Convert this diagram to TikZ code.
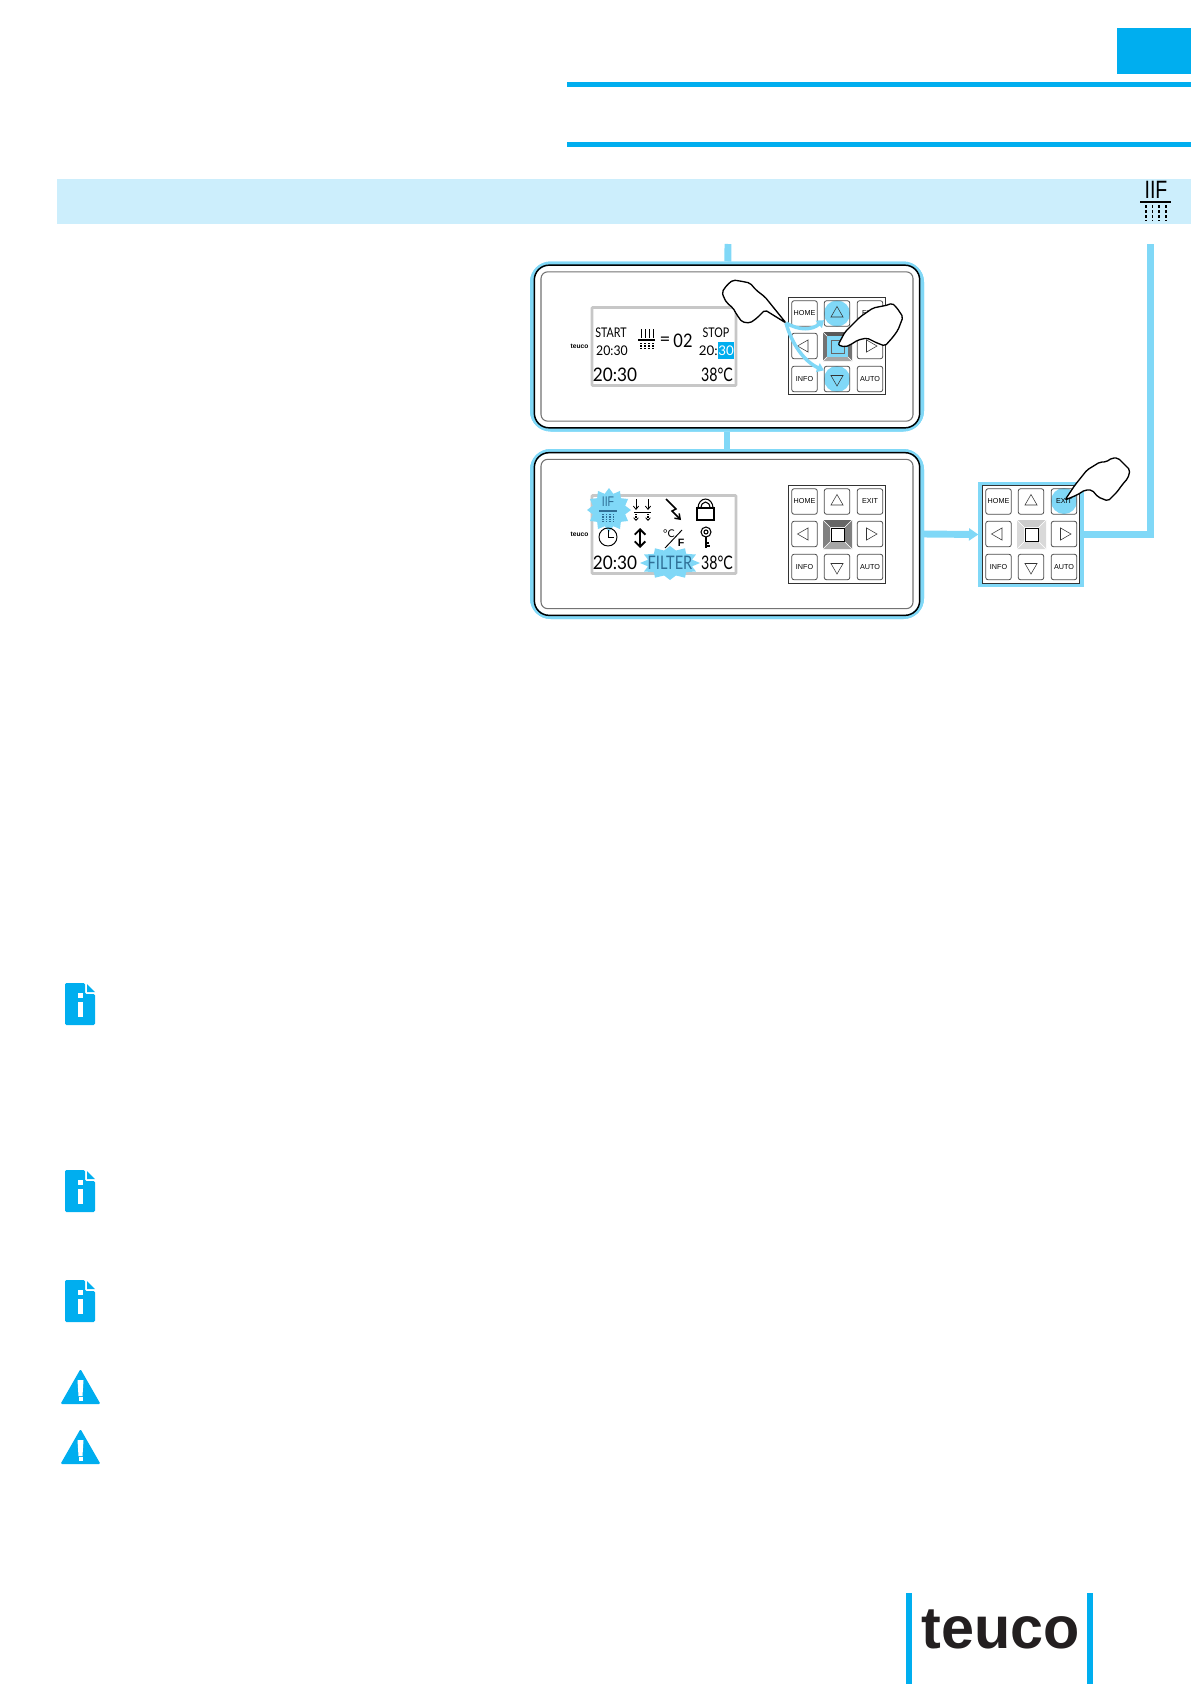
\documentclass[tikz,border=0pt]{standalone}
\usepackage{fontspec}
\setmainfont{Liberation Sans}
\newfontfamily\lcdfont{Lato}
\usetikzlibrary{shapes.geometric,arrows.meta,positioning,calc}
\definecolor{teucoblue}{HTML}{00AEEF}
\definecolor{linkblue}{HTML}{80D8F7}
\definecolor{bandblue}{HTML}{CCEEFC}
\definecolor{logoblack}{HTML}{231F20}
\definecolor{starblue}{HTML}{2F6F96}
\tikzset{
    panelglow/.style={draw=linkblue, line width=3pt, fill=white, rounded corners=14pt, minimum width=292.5pt, minimum height=124.5pt},
    panelframe/.style={draw=black, line width=1.1pt, rounded corners=11pt, minimum width=289pt, minimum height=122pt},
    panelinner/.style={draw=black!55, line width=.8pt, rounded corners=5pt, minimum width=279pt, minimum height=112pt},
    lcdbox/.style={draw=black!22, line width=2pt, rounded corners=.5pt, minimum width=108pt, minimum height=58.5pt},
    padframe/.style={draw=black!80, line width=.7pt, fill=white, minimum width=73pt, minimum height=73pt},
    keybox/.style={draw=black!70, line width=.6pt, rounded corners=1.5pt, minimum width=19pt, minimum height=19pt, inner sep=0pt, font=\fontsize{5.4pt}{6pt}\selectfont},
    keytri/.style={regular polygon, regular polygon sides=3, draw=black!80, line width=.4pt, minimum size=10.5pt, inner sep=0pt},
    link/.style={draw=linkblue, line width=5.2pt},
    sweep/.style={draw=linkblue, line width=2.6pt, -{Triangle[length=5pt,width=7pt]}},
    hand/.style={draw=black, line width=1pt, fill=white, rounded corners=1.5pt, line join=round},
    lcdsmall/.style={inner sep=0pt, font=\lcdfont\fontsize{10pt}{10pt}\selectfont},
    lcdbig/.style={inner sep=0pt, font=\lcdfont\fontsize{14pt}{14pt}\selectfont},
    tinylogo/.style={inner sep=0pt, font=\bfseries\fontsize{5pt}{5pt}\selectfont},
    dotted rain/.style={line width=.8pt, dash pattern=on 1pt off .8pt},
}
% keypad, drawn at the place of the first one
\newcommand{\keypad}[1]{
    \foreach \keyname/\keytext/\keyx/\keyy in {home/HOME/804.5/313.5, exit/EXIT/870/313.5, info/INFO/804.5/379, auto/AUTO/870/379}
        \node[keybox] (#1\keyname) at (\keyx,\keyy) {\keytext};
    \foreach \keyname/\keyrot/\keyx/\keyy in {up/0/837/313.5, down/180/837/379, left/90/804.5/346, right/270/870/346} {
        \node[keybox] (#1\keyname) at (\keyx,\keyy) {};
        \node[keytri, shape border rotate=\keyrot] (#1\keyname tri) at (#1\keyname) {};
    }
}
% middle key: top, sides, bottom
\newcommand{\padcore}[3]{
    \fill[#1] (823,332) -- (852,332) -- (845,339) -- (830,339) -- cycle;
    \fill[#2] (823,332) -- (830,339) -- (830,354) -- (823,361) -- cycle;
    \fill[#2] (852,332) -- (845,339) -- (845,354) -- (852,361) -- cycle;
    \fill[#3] (823,361) -- (852,361) -- (845,354) -- (830,354) -- cycle;
    \draw[white, line width=.4pt] (823,332) -- (830,339) (852,332) -- (845,339) (823,361) -- (830,354) (852,361) -- (845,354);
}
% spiky patch behind a lit symbol
\newcommand{\burst}[4]{
    \fill[linkblue] plot[domain=0:24, samples=25] ({#1+(#3)*(1-.24*mod(\x,2))*cos(\x*15)}, {#2+(#4)*(1-.24*mod(\x,2))*sin(\x*15)}) -- cycle;
}
\begin{document}
\begin{tikzpicture}[x=.75pt, y=-.75pt]
    \useasboundingbox (0,0) rectangle (1191,1684);
    % page head
    \fill[teucoblue] (1117,28) rectangle (1191,74);
    \fill[teucoblue] (567,82) rectangle (1191,87);
    \fill[teucoblue] (567,142) rectangle (1191,147);
    \fill[bandblue] (57,179) rectangle (1191,224);
    \node[inner sep=0pt, font=\fontsize{18.8pt}{18.8pt}\selectfont] (headmark) at (1156,190) {\scalebox{.78}[1]{IIF}};
    \draw[line width=1pt] (1140,202) -- (1171,202);
    \foreach \x in {1146,1152.5,1159,1166}
        \draw[line width=1pt, dash pattern=on 2.2pt off 1.6pt] (\x,205) -- (\x,221);

    % panels
    \coordinate (linkstart) at (728,244);
    \coordinate (linkend) at (1150.5,244);
    \node[panelglow] (panelA) at (727,346.5) {};
    \node[panelglow] (panelB) at (727,534) {};
    \node[padframe, draw=linkblue, line width=3pt, minimum width=76pt, minimum height=76pt] (padCglow) at (1031,534.5) {};
    \draw[link] (linkstart) -- (panelA);
    \draw[link] (panelA) -- (panelB);
    \draw[link, -{Triangle[length=7pt,width=9pt]}] (panelB.east) -- (padCglow.west);
    \draw[link] (padCglow.east) -| (linkend);
    \node[panelglow] (panelAtop) at (727,346.5) {};
    \node[panelglow] (panelBtop) at (727,534) {};
    \foreach \panel/\panely in {A/346.5, B/534} {
        \node[panelframe] (frame\panel) at (727,\panely) {};
        \node[panelinner] (inner\panel) at (727,\panely) {};
    }

    % first display
    \node[lcdbox] (lcdA) at (664,346.5) {};
    \node[tinylogo, left=1.5pt of lcdA] (logoA) {teuco};
    \node[lcdsmall] (startA) at (611,333) {\scalebox{.8}[1]{START}};
    \node[lcdsmall] (timeA) at (612,351) {\scalebox{.92}[1]{20:30}};
    \node[lcdbig] (clockA) at (615,375) {\scalebox{.92}[1]{20:30}};
    \node[lcdsmall] (stopA) at (716,333) {\scalebox{.8}[1]{STOP}};
    \fill[teucoblue] (718,342) rectangle (734,359);
    \node[lcdsmall, anchor=east] (stopminA) at (718,351) {20:};
    \node[lcdsmall, text=white] (stopsecA) at (726,351) {30};
    \node[lcdbig] (tempA) at (717,375) {\scalebox{.76}[1]{38°C}};
    \foreach \x in {641,645,649,653} {
        \draw[line width=.7pt] (\x,329) -- (\x,338);
        \draw[dotted rain] (\x,343) -- (\x,349);
    }
    \draw[line width=.8pt] (638,340) -- (655,340);
    \node[lcdbig] (eqA) at (665,341) {=};
    \node[lcdbig] (countA) at (683,341) {\scalebox{.88}[1]{02}};

    % first keypad
    \node[padframe] (padA) at (837,346) {};
    \fill[linkblue] (837,313.5) circle (13);
    \fill[linkblue] (837,379) circle (13);
    \padcore{black!65}{black!55}{black!35}
    \fill[linkblue] (827,336) rectangle (848,357);
    \draw[black!60, line width=.5pt] (831,340) rectangle (844,353);
    \keypad{padA}

    % second display
    \node[lcdbox] (lcdB) at (664,534.5) {};
    \node[tinylogo, left=1.5pt of lcdB] (logoB) {teuco};
    \burst{609}{510}{22}{22}
    \burst{670}{563}{30}{17}
    \node[inner sep=0pt, text=starblue, font=\fontsize{10.5pt}{10.5pt}\selectfont] (markB) at (608,502) {\scalebox{.75}[1]{IIF}};
    \draw[starblue, line width=.8pt] (599,511) -- (617,511);
    \foreach \x in {603,606.5,610,613.5}
        \draw[starblue, dotted rain] (\x,514) -- (\x,522);
    % down jets
    \foreach \x in {636,648} {
        \draw[line width=.6pt, -{Straight Barb[length=2.5pt,width=4pt]}] (\x,499) -- (\x,510);
        \draw[dotted rain, -{Straight Barb[length=2pt,width=3.5pt,line width=.6pt]}] (\x,514) -- (\x,521);
    }
    \draw[line width=.7pt] (634,512) -- (651,512);
    % bolt
    \draw[line width=1.1pt, -{Straight Barb[length=3.5pt,width=5pt]}] (666,499) -- (676,509) -- (672,511) -- (681,520);
    % padlock
    \draw[line width=.8pt] (697,508) rectangle (714,520);
    \draw[line width=.8pt] (698,508) arc (180:360:7.5 and 9);
    \draw[line width=.8pt] (701,508) arc (180:360:4.5 and 6);
    % clock
    \draw[line width=.7pt] (608,537) circle (9);
    \draw[line width=.6pt] (608,530) -- (608,537) -- (614,537);
    % up and down
    \draw[line width=1.4pt, {Straight Barb[length=4pt,width=8pt]}-{Straight Barb[length=4pt,width=8pt]}] (640,528) -- (640,548);
    % unit swap
    \node[inner sep=0pt, font=\lcdfont\fontsize{8pt}{8pt}\selectfont] (celsius) at (669,534) {°C};
    \draw[line width=.7pt] (665,548) -- (682,530);
    \node[inner sep=0pt, font=\bfseries\fontsize{8pt}{8pt}\selectfont] (fahren) at (681,543) {F};
    % key
    \draw[line width=.8pt] (706,532) circle (5);
    \draw[line width=.8pt] (706,532) circle (2);
    \draw[line width=2pt] (706,537) -- (706,548);
    \draw[line width=1.2pt] (706,546) -- (710,546) (706,543) -- (709,543);
    \node[lcdbig] (clockB) at (615,563) {\scalebox{.92}[1]{20:30}};
    \node[lcdbig, text=starblue] (filterB) at (670,563) {\scalebox{.78}[1]{FILTER}};
    \node[lcdbig] (tempB) at (717,563) {\scalebox{.76}[1]{38°C}};

    % second keypad
    \begin{scope}[shift={(0,188)}]
        \node[padframe] (padB) at (837,346.5) {};
        \padcore{black!60}{black!50}{black!35}
        \draw[black, line width=.5pt] (831,340) rectangle (844,353);
        \keypad{padB}
    \end{scope}

    % third keypad
    \begin{scope}[shift={(194,188)}]
        \node[padframe] (padC) at (837,346.5) {};
        \fill[linkblue] (870,313) circle (13);
        \padcore{black!20}{black!15}{black!15}
        \draw[black, line width=.5pt] (831,340) rectangle (844,353);
        \keypad{padC}
    \end{scope}

    % hands
    \coordinate (tipA) at (786,323);
    \draw[sweep] (tipA) .. controls (800,331) and (812,330) .. ([yshift=-5pt]padAup.west);
    \draw[sweep] (tipA) .. controls (792,345) and (805,362) .. ([yshift=6.5pt]padAdown.west);
    \draw[hand] (tipA) -- (765,297) -- (756,290) -- (750,283) -- (740,281) -- (733,280) -- (727,285) -- (722,292) -- (724,298) -- (727,303) -- (733,308) -- (737,315) -- (742,322) -- (750,323) -- (757,318) -- (765,310) -- cycle;
    \draw[hand] (838,345) -- (845,332) -- (860,317) -- (873,308) -- (883,306) -- (888,305) -- (892,303) -- (897,308) -- (903,317) -- (898,330) -- (893,337) -- (885,346) -- (877,343) -- (867,338) -- (858,340) -- (850,345) -- (845,347) -- cycle;
    \draw[hand] (1065,500) -- (1075,485) -- (1087,470) -- (1100,462) -- (1106,462) -- (1112,458) -- (1118,458) -- (1124,464) -- (1130,470) -- (1128,478) -- (1122,485) -- (1117,492) -- (1108,501) -- (1098,497) -- (1092,490) -- (1085,490) -- (1077,495) -- cycle;

    % note marks
    \foreach \marky in {983,1170,1280} {
        \fill[teucoblue, rounded corners=1pt] (65,\marky) -- (85,\marky) -- (85,\marky+11) -- (95,\marky+11) -- (95,\marky+42) -- (65,\marky+42) -- cycle;
        \fill[teucoblue] (87,\marky+1) -- (95,\marky+9) -- (87,\marky+9) -- cycle;
        \fill[white] (77.5,\marky+10) rectangle (82.5,\marky+15);
        \fill[white] (77.5,\marky+19) rectangle (82.5,\marky+34);
    }
    % warning marks
    \foreach \marky in {1369,1429} {
        \fill[teucoblue, rounded corners=1pt] (80.5,\marky) -- (100.5,\marky+35) -- (60.5,\marky+35) -- cycle;
        \fill[white] (77.5,\marky+11) -- (83.5,\marky+11) -- (82.5,\marky+27) -- (78.5,\marky+27) -- cycle;
        \fill[white] (78.5,\marky+28) rectangle (82.5,\marky+32);
    }

    % logo
    \fill[teucoblue] (906,1593) rectangle (912,1684);
    \fill[teucoblue] (1087,1593) rectangle (1093,1684);
    \node[anchor=base west, inner sep=0pt, text=logoblack, font=\bfseries\fontsize{44.5pt}{44.5pt}\selectfont] (logo) at (921.5,1648) {teuco};
\end{tikzpicture}
\end{document}
